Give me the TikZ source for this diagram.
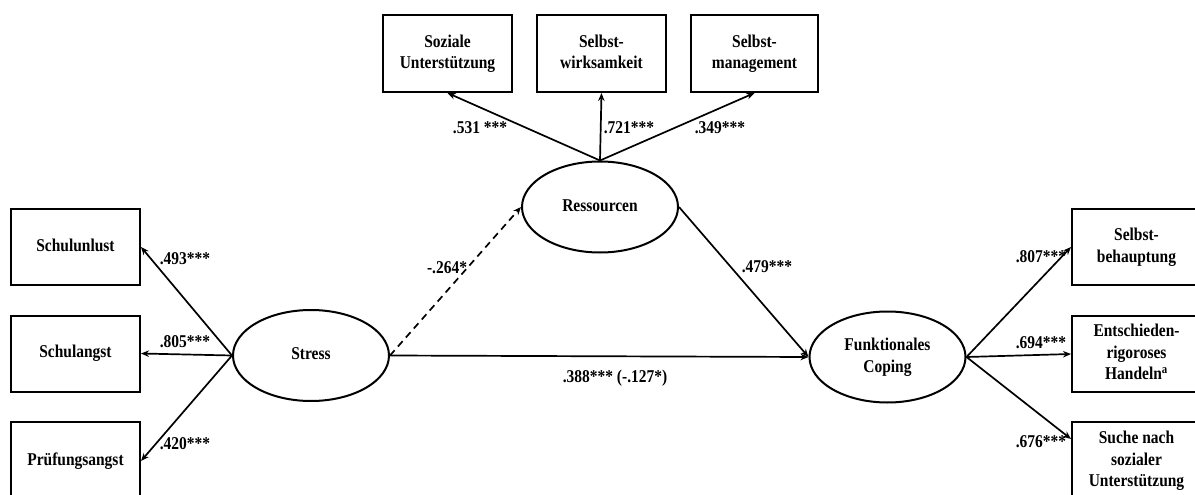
\documentclass[tikz,border=0pt]{standalone}
\usepackage{fontspec}
\usepackage{graphicx}
\setmainfont{Liberation Serif}
\usetikzlibrary{shapes.geometric,arrows.meta,calc}

% narrow bold label text, optionally several lines
\newcommand\lbltext[1]{\scalebox{0.86}[1]{\begin{tabular}{@{}c@{}}#1\end{tabular}}}

\begin{document}
\begin{tikzpicture}[x=1pt,y=-1pt,
  every node/.style={font=\fontsize{18}{21.6}\selectfont\bfseries},
  indicator/.style={draw, line width=2pt, rectangle, minimum width=129pt, minimum height=76pt, inner sep=0pt},
  latent/.style={draw, line width=2pt, ellipse, minimum width=156pt, minimum height=91pt, inner sep=0pt},
  path/.style={line width=1.7pt, -{Stealth[length=8pt,width=6.5pt]}},
  coef/.style={inner sep=0pt}
]
\useasboundingbox (0,0) rectangle (1195,495);

% latent variables
\node[latent] (stress) at (311,355.5) {\lbltext{Stress}};
\node[latent] (res) at (600,207) {\lbltext{Ressourcen}};
\node[latent] (cop) at (887.5,357) {\lbltext{Funktionales\\Coping}};

% stress indicators
\node[indicator] (su) at (75.5,247) {\lbltext{Schulunlust}};
\node[indicator] (sa) at (75.5,353.5) {\lbltext{Schulangst}};
\node[indicator, minimum height=78pt] (pa) at (75.5,461) {\lbltext{Prüfungsangst}};

% resource indicators
\node[indicator, minimum height=77pt] (soz) at (447.5,53.5) {\lbltext{Soziale\\Unterstützung}};
\node[indicator, minimum height=77pt] (swk) at (601.5,53.5) {\lbltext{Selbst-\\wirksamkeit}};
\node[indicator, minimum height=77pt, minimum width=127pt] (smg) at (754.5,53.5) {\lbltext{Selbst-\\management}};

% coping indicators
\node[indicator] (sbh) at (1136.5,247) {\lbltext{Selbst-\\behauptung}};
\node[indicator] (erh) at (1136.5,354) {\lbltext{Entschieden-\\rigoroses\\Handeln\textsuperscript{a}}};
\node[indicator, minimum height=78pt] (snu) at (1136.5,461) {\lbltext{Suche nach\\sozialer\\Unterstützung}};
\coordinate (snuin) at ($(snu.north west)+(0,18)$);

% measurement paths
\draw[path] (stress.west) -- (su.east);
\draw[path] (stress.west) -- (sa.east);
\draw[path] (stress.west) -- (pa.east);
\draw[path] (res.north) -- (soz.south);
\draw[path] (res.north) -- (swk.south);
\draw[path] (res.north) -- (smg.south);
\draw[path] (cop.east) -- (sbh.west);
\draw[path] (cop.east) -- (erh.west);
\draw[path] (cop.east) -- (snuin);

% structural paths
\draw[path, dash pattern=on 7pt off 5pt] (stress.east) -- (res.west);
\draw[path] (res.east) -- (cop.west);
\draw[path] (stress.east) -- (cop.west);

% coefficients
\node[coef] (c1) at (185,260) {\lbltext{.493***}};
\node[coef] (c2) at (185,343) {\lbltext{.805***}};
\node[coef] (c3) at (185,445) {\lbltext{.420***}};
\node[coef] (c4) at (480,129) {\lbltext{.531 ***}};
\node[coef] (c5) at (629,129) {\lbltext{.721***}};
\node[coef] (c6) at (720,129) {\lbltext{.349***}};
\node[coef] (c7) at (447,269) {\lbltext{-.264*}};
\node[coef] (c8) at (767,268) {\lbltext{.479***}};
\node[coef] (c9) at (615,378) {\lbltext{.388*** (-.127*)}};
\node[coef] (c10) at (1041,258) {\lbltext{.807***}};
\node[coef] (c11) at (1041,344) {\lbltext{.694***}};
\node[coef] (c12) at (1041,443) {\lbltext{.676***}};
\end{tikzpicture}
\end{document}
